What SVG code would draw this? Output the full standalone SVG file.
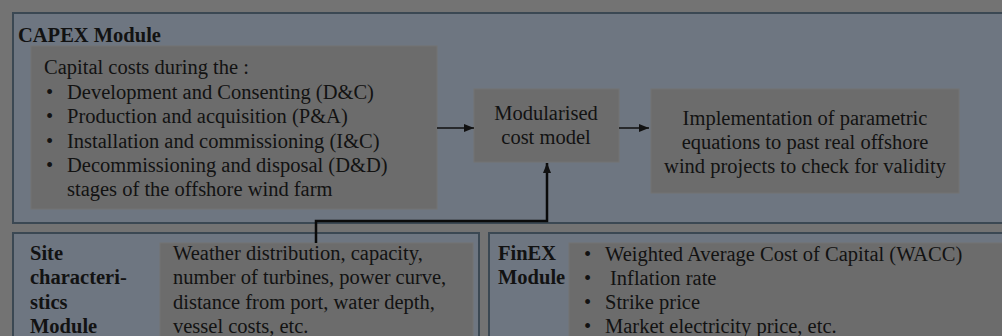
<svg xmlns="http://www.w3.org/2000/svg" width="1002" height="336" viewBox="0 0 1002 336">
  <defs>
    <marker id="arr" viewBox="0 0 10 10" refX="10" refY="5" markerWidth="10" markerHeight="10" markerUnits="userSpaceOnUse" orient="auto">
      <path d="M0,1 L10,5 L0,9 z" fill="#111"/>
    </marker>
  </defs>
  <style>
    .module { fill: #6e7681; stroke: #3b4853; stroke-width: 2; }
    .box { fill: #6c6c6c; stroke: #737373; stroke-width: 1; }
    text { font-family: "Liberation Serif", "Times New Roman", serif; font-size: 20.5px; fill: #121212; }
    .title { font-weight: bold; }
    .mid { text-anchor: middle; }
    .link { fill: none; stroke: #111; stroke-width: 1.5; }
    .thick { fill: none; stroke: #0a0a0a; stroke-width: 2.5; }
  </style>
  <rect width="1002" height="336" fill="#737373"/>

  <!-- CAPEX module -->
  <g id="capex">
    <rect class="module" x="13" y="13" width="1000" height="210"/>
    <text class="title" x="18" y="42">CAPEX Module</text>
    <rect class="box" x="31" y="46" width="406" height="163"/>
    <text x="44" y="74">Capital costs during the :</text>
    <text x="46" y="99">•</text>
    <text x="67" y="99">Development and Consenting (D&amp;C)</text>
    <text x="46" y="123">•</text>
    <text x="67" y="123">Production and acquisition (P&amp;A)</text>
    <text x="46" y="148">•</text>
    <text x="67" y="148">Installation and commissioning (I&amp;C)</text>
    <text x="46" y="172">•</text>
    <text x="67" y="172">Decommissioning and disposal (D&amp;D)</text>
    <text x="67" y="196">stages of the offshore wind farm</text>
  </g>

  <g id="model">
    <rect class="box" x="474" y="89" width="145" height="73"/>
    <text class="mid" x="546" y="120">Modularised</text>
    <text class="mid" x="546" y="144">cost model</text>
  </g>

  <g id="validation">
    <rect class="box" x="651" y="89" width="308" height="104"/>
    <text class="mid" x="805" y="125">Implementation of parametric</text>
    <text class="mid" x="805" y="149">equations to past real offshore</text>
    <text class="mid" x="805" y="173">wind projects to check for validity</text>
  </g>

  <!-- Site characteristics module -->
  <g id="site">
    <rect class="module" x="13" y="233" width="466" height="120"/>
    <rect class="box" x="160" y="243" width="313" height="110"/>
    <text class="title" x="30" y="260">Site</text>
    <text class="title" x="30" y="284">characteri-</text>
    <text class="title" x="30" y="309">stics</text>
    <text class="title" x="30" y="333">Module</text>
    <text x="173" y="260">Weather distribution, capacity,</text>
    <text x="173" y="284">number of turbines, power curve,</text>
    <text x="173" y="309">distance from port, water depth,</text>
    <text x="173" y="333">vessel costs, etc.</text>
  </g>

  <!-- FinEX module -->
  <g id="finex">
    <rect class="module" x="489" y="233" width="530" height="120"/>
    <rect class="box" x="569" y="243" width="450" height="110"/>
    <text class="title" x="498" y="260">FinEX</text>
    <text class="title" x="498" y="284">Module</text>
    <text x="584" y="261">•</text>
    <text x="605" y="261">Weighted Average Cost of Capital (WACC)</text>
    <text x="584" y="285">•</text>
    <text x="610" y="285">Inflation rate</text>
    <text x="584" y="309">•</text>
    <text x="605" y="309">Strike price</text>
    <text x="584" y="333">•</text>
    <text x="605" y="333">Market electricity price, etc.</text>
  </g>

  <!-- connectors -->
  <g id="connectors">
    <line class="link" x1="437" y1="128" x2="474" y2="128" marker-end="url(#arr)"/>
    <line class="link" x1="619" y1="128" x2="649" y2="128" marker-end="url(#arr)"/>
    <polyline class="thick" points="316,243 316,221 547,221 547,163" marker-end="url(#arr)"/>
  </g>
</svg>
